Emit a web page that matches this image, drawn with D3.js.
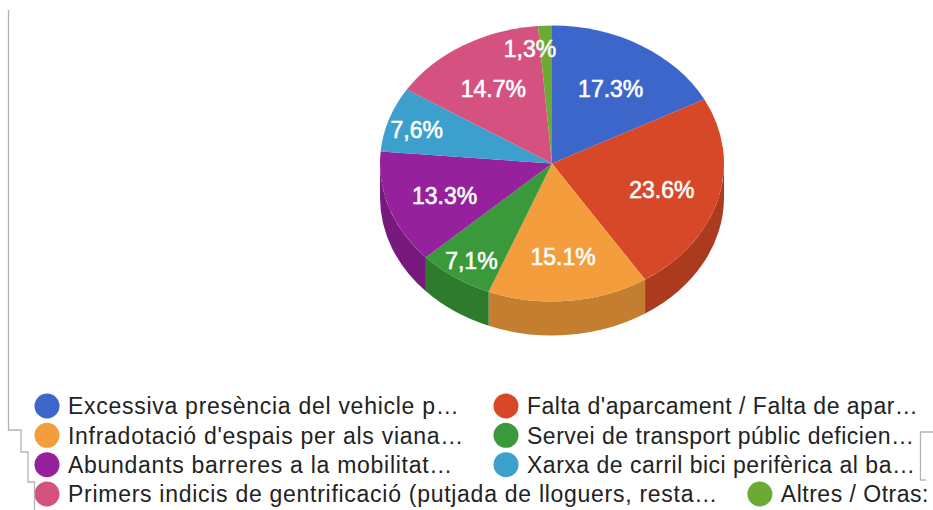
<!DOCTYPE html>
<html>
<head>
<meta charset="utf-8">
<script src="https://cdn.jsdelivr.net/npm/d3@7/dist/d3.min.js"></script>
<style>
  html, body { margin: 0; padding: 0; background: #ffffff; }
  svg { display: block; }
  text { font-family: "Liberation Sans", Arial, Helvetica, sans-serif; }
</style>
</head>
<body>
<svg id="chart" width="933" height="510"></svg>
<script>
// Problem categories (legend text, truncated the way the legend shows them)
const categories = [
  "Excessiva presència del vehicle p…",
  "Falta d'aparcament / Falta de apar…",
  "Infradotació d'espais per als viana…",
  "Servei de transport públic deficien…",
  "Abundants barreres a la mobilitat…",
  "Xarxa de carril bici perifèrica al ba…",
  "Primers indicis de gentrificació (putjada de lloguers, resta…",
  "Altres / Otras:"
];

// Share of answers per category (%)
const values = [17.3, 23.6, 15.1, 7.1, 13.3, 7.6, 14.7, 1.3];

// Slice labels as printed on the pie
const sliceLabels = ["17.3%", "23.6%", "15.1%", "7,1%", "13.3%", "7,6%", "14.7%", "1,3%"];

// Slice colours
const colors = ["#3d66cb", "#d64827", "#f49d3c", "#3a993a", "#96219c", "#3d9fcb", "#d55280", "#6cab33"];

const svg = d3.select("#chart");

// ---- 3D pie geometry ----
const cx = 552, cy = 163.5, rx = 172, ry = 138, depth = 34;

const color = d3.scaleOrdinal().domain(d3.range(values.length)).range(colors);

const arcs = d3.pie().sort(null).value(d => d)(values).map((a, i) => ({ ...a, i }));

// point on the tilted disc for angle a (clockwise from 12 o'clock)
const pt = (a, k = 1, dz = 0) => [cx + rx * k * Math.sin(a), cy - ry * k * Math.cos(a) + dz];

function topPath(d) {
  const p0 = pt(d.startAngle), p1 = pt(d.endAngle);
  const large = d.endAngle - d.startAngle > Math.PI ? 1 : 0;
  return `M${cx},${cy}L${p0[0]},${p0[1]}A${rx},${ry} 0 ${large} 1 ${p1[0]},${p1[1]}Z`;
}

function sidePath(d) {
  const s0 = Math.max(d.startAngle, Math.PI / 2);
  const s1 = Math.min(d.endAngle, Math.PI * 1.5);
  if (s1 <= s0) return null;
  const a = pt(s0), b = pt(s1), c = pt(s1, 1, depth), e = pt(s0, 1, depth);
  return `M${a[0]},${a[1]}A${rx},${ry} 0 0 1 ${b[0]},${b[1]}L${c[0]},${c[1]}A${rx},${ry} 0 0 0 ${e[0]},${e[1]}Z`;
}

const pie = svg.append("g").attr("class", "pie");

// outer wall of the front half
pie.append("g").attr("class", "sides")
  .selectAll("path")
  .data(arcs.filter(d => sidePath(d)))
  .join("path")
  .attr("d", sidePath)
  .attr("fill", d => d3.color(color(d.i)).darker(0.62));

// top faces
pie.append("g").attr("class", "tops")
  .selectAll("path")
  .data(arcs)
  .join("path")
  .attr("d", topPath)
  .attr("fill", d => color(d.i));

// value labels: wide slices near the middle of the wedge, narrow ones pushed outward
pie.append("g").attr("class", "labels")
  .selectAll("text")
  .data(arcs)
  .join("text")
  .each(function (d) {
    const mid = (d.startAngle + d.endAngle) / 2;
    const share = d.value / 100;
    const k = share >= 0.1 ? 0.66 : 0.83;
    const p = pt(mid, k);
    const t = d3.select(this);
    if (share < 0.03) {
      t.attr("x", p[0] + 10).attr("y", p[1]).attr("text-anchor", "end");
    } else {
      t.attr("x", p[0]).attr("y", p[1] + 3).attr("text-anchor", "middle");
    }
  })
  .attr("dy", "0.36em")
  .attr("fill", "#ffffff")
  .attr("stroke", "#ffffff")
  .attr("stroke-width", 0.6)
  .attr("font-size", 23)
  .text(d => sliceLabels[d.i]);

// ---- legend: two columns, row-major; an item moves right if the previous text runs long ----
const legend = svg.append("g").attr("class", "legend");
const colX = [47, 506];
const rowY = d3.scalePoint().domain(d3.range(4)).range([406, 494]);
const textGap = 21, minGap = 42;

let prevEnd = -Infinity;
categories.forEach((name, i) => {
  const row = Math.floor(i / 2), col = i % 2;
  const x = col === 0 ? colX[0] : Math.max(colX[1], prevEnd + minGap);
  const y = rowY(row);
  const g = legend.append("g");
  g.append("circle").attr("cx", x).attr("cy", y).attr("r", 12.5).attr("fill", color(i));
  const t = g.append("text")
    .attr("x", x + textGap)
    .attr("y", y)
    .attr("dy", "0.36em")
    .attr("font-size", 23)
    .attr("letter-spacing", col === 0 ? 0.72 : 0.5)
    .attr("fill", "#222222")
    .text(name);
  prevEnd = x + textGap + t.node().getComputedTextLength();
});

// thin panel edges around the chart area
const edges = svg.append("g").attr("class", "panel-edges")
  .attr("fill", "none").attr("stroke", "#b4b4b4").attr("stroke-width", 1.3);
edges.append("path").attr("d", "M8.5,10V430H21V452H28V482H34.5V510");
edges.append("path").attr("d", "M933,432H920.5V480H926");
</script>
</body>
</html>
